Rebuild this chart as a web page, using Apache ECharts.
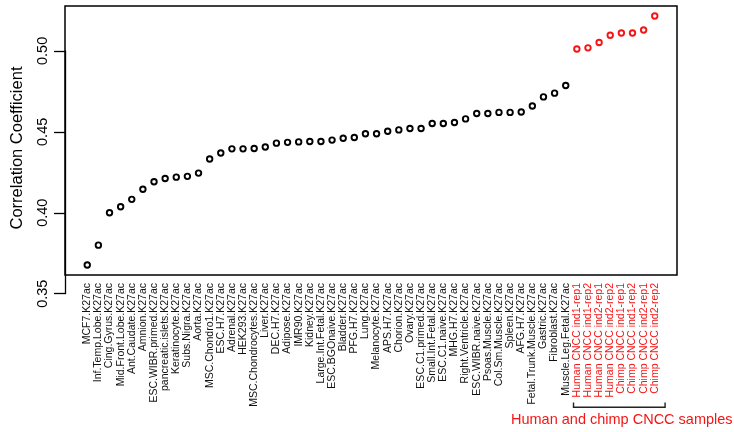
<!DOCTYPE html>
<html>
<head>
<meta charset="utf-8">
<script src="https://cdn.jsdelivr.net/npm/echarts@6/dist/echarts.min.js"></script>
<style>
html,body{margin:0;padding:0;background:#fff;}
#chart{width:734px;height:432px;}
</style>
</head>
<body>
<div id="chart"></div>
<script>
const categories = [
  'MCF7.K27ac','Inf.Temp.Lobe.K27ac','Cing.Gyrus.K27ac','Mid.Front.Lobe.K27ac','Ant.Caudate.K27ac',
  'Amnion.K27ac','ESC.WIBR.primed.K27ac','pancreatic.islets.K27ac','Keratinocyte.K27ac','Subs.Nigra.K27ac',
  'Aorta.K27ac','MSC.Chondro1.K27ac','ESC.H7.K27ac','Adrenal.K27ac','HEK293.K27ac',
  'MSC.Chondrocytes.K27ac','Liver.K27ac','DEC.H7.K27ac','Adipose.K27ac','IMR90.K27ac',
  'Kidney.K27ac','Large.Int.Fetal.K27ac','ESC.BGOnaive.K27ac','Bladder.K27ac','PFG.H7.K27ac',
  'Lung.K27ac','Melanocyte.K27ac','APS.H7.K27ac','Chorion.K27ac','Ovary.K27ac',
  'ESC.C1.primed.K27ac','Small.Int.Fetal.K27ac','ESC.C1.naive.K27ac','MHG.H7.K27ac','Right.Ventricle.K27ac',
  'ESC.WIBR.naive.K27ac','Psoas.Muscle.K27ac','Col.Sm.Muscle.K27ac','Spleen.K27ac','AFG.H7.K27ac',
  'Fetal.Trunk.Muscle.K27ac','Gastric.K27ac','Fibroblast.K27ac','Muscle.Leg.Fetal.K27ac',
  'Human CNCC ind1-rep1','Human CNCC ind1-rep2','Human CNCC ind2-rep1','Human CNCC ind2-rep2',
  'Chimp CNCC ind1-rep1','Chimp CNCC ind1-rep2','Chimp CNCC ind2-rep1','Chimp CNCC ind2-rep2'
];
const correlation = [
  0.3677, 0.3800, 0.4000, 0.4037, 0.4083,
  0.4145, 0.4192, 0.4212, 0.4220, 0.4225,
  0.4245, 0.4332, 0.4369, 0.4395, 0.4395,
  0.4397, 0.4406, 0.4430, 0.4435, 0.4438,
  0.4440, 0.4440, 0.4449, 0.4460, 0.4465,
  0.4488, 0.4488, 0.4504, 0.4512, 0.4521,
  0.4521, 0.4552, 0.4552, 0.4558, 0.4580,
  0.4613, 0.4613, 0.4620, 0.4620, 0.4623,
  0.4660, 0.4716, 0.4739, 0.4786,
  0.5012, 0.5019, 0.5052, 0.5097,
  0.5111, 0.5111, 0.5129, 0.5216
];
const yTicks = [0.35, 0.40, 0.45, 0.50];
const yTitle = 'Correlation Coefficient';
const groupLabel = 'Human and chimp CNCC samples';
const groupTag = 'CNCC';

const RED = '#f51515';
const FONT = 'Liberation Sans, Arial, sans-serif';
const L = 65, R = 57, T = 6, H = 269;
const W = 734 - L - R;
const PAD = 2; // empty category slots on each side (R's 4% extension)

const vmin = Math.min(...correlation), vmax = Math.max(...correlation);
const ylo = vmin - 0.04 * (vmax - vmin), yhi = vmax + 0.04 * (vmax - vmin);
const pxPerUnit = H / (yhi - ylo);
const gbTop = T + (yhi - yTicks[yTicks.length - 1]) * pxPerUnit;
const gbH = (yTicks[yTicks.length - 1] - yTicks[0]) * pxPerUnit;

const isGroup = c => c.indexOf(groupTag) >= 0;
const pad = new Array(PAD).fill('');
const xData = pad.concat(categories.map(c => isGroup(c) ? {value: c, textStyle: {color: RED}} : c)).concat(pad);
const seriesData = categories.map((c, i) => ({
  value: [i + PAD, correlation[i]],
  itemStyle: {borderColor: isGroup(c) ? RED : '#000'}
}));

const nSlots = categories.length + 2 * PAD - 1;
const xPix = idx => L + (idx + PAD) * W / nSlots;
const firstG = categories.findIndex(isGroup);
const lastG = categories.length - 1;
const bx0 = xPix(firstG - 0.3), bx1 = xPix(lastG + 0.93);

const chart = echarts.init(document.getElementById('chart'), null, {renderer: 'canvas'});
chart.setOption({
  animation: false,
  backgroundColor: '#fff',
  grid: [
    {left: L, right: R, top: T, height: H, show: true, borderColor: '#000', borderWidth: 1.5, backgroundColor: 'transparent'},
    {left: L, right: R, top: gbTop, height: gbH, show: false}
  ],
  xAxis: [
    {
      type: 'category', gridIndex: 0, data: xData, boundaryGap: false,
      axisLine: {show: false}, axisTick: {show: false}, splitLine: {show: false},
      axisLabel: {interval: 0, rotate: 90, margin: 8, fontSize: 10.5, fontFamily: FONT, color: '#111'}
    },
    {type: 'value', gridIndex: 1, show: false}
  ],
  yAxis: [
    {type: 'value', gridIndex: 0, min: ylo, max: yhi, show: false, splitLine: {show: false}},
    {
      type: 'value', gridIndex: 1, min: yTicks[0], max: yTicks[yTicks.length - 1], interval: 0.05,
      axisLine: {show: true, lineStyle: {color: '#000', width: 1.3}},
      axisTick: {show: true, length: 11, lineStyle: {color: '#000', width: 1.3}},
      splitLine: {show: false},
      axisLabel: {rotate: 90, margin: 15, fontSize: 14.5, fontFamily: FONT, color: '#000',
        formatter: v => v.toFixed(2)}
    }
  ],
  series: [{
    type: 'scatter', xAxisIndex: 0, yAxisIndex: 0,
    symbol: 'circle', symbolSize: 5.5,
    itemStyle: {color: '#fff', borderWidth: 1.9, opacity: 1},
    data: seriesData
  }],
  graphic: [
    {type: 'text', x: 17, y: 148, rotation: Math.PI / 2,
      style: {text: yTitle, fontSize: 16.5, fontFamily: FONT, fill: '#000', textAlign: 'center', textVerticalAlign: 'middle'}},
    {type: 'polyline', shape: {points: [[bx0, 402.5], [bx0, 407.3], [bx1, 407.3], [bx1, 402.5]]},
      style: {stroke: '#222', lineWidth: 1.4, fill: null}},
    {type: 'text', x: (bx0 + bx1) / 2 + 2.5, y: 419.5,
      style: {text: groupLabel, fontSize: 14.5, fontFamily: FONT, fill: RED, textAlign: 'center', textVerticalAlign: 'middle'}}
  ]
});
</script>
</body>
</html>
